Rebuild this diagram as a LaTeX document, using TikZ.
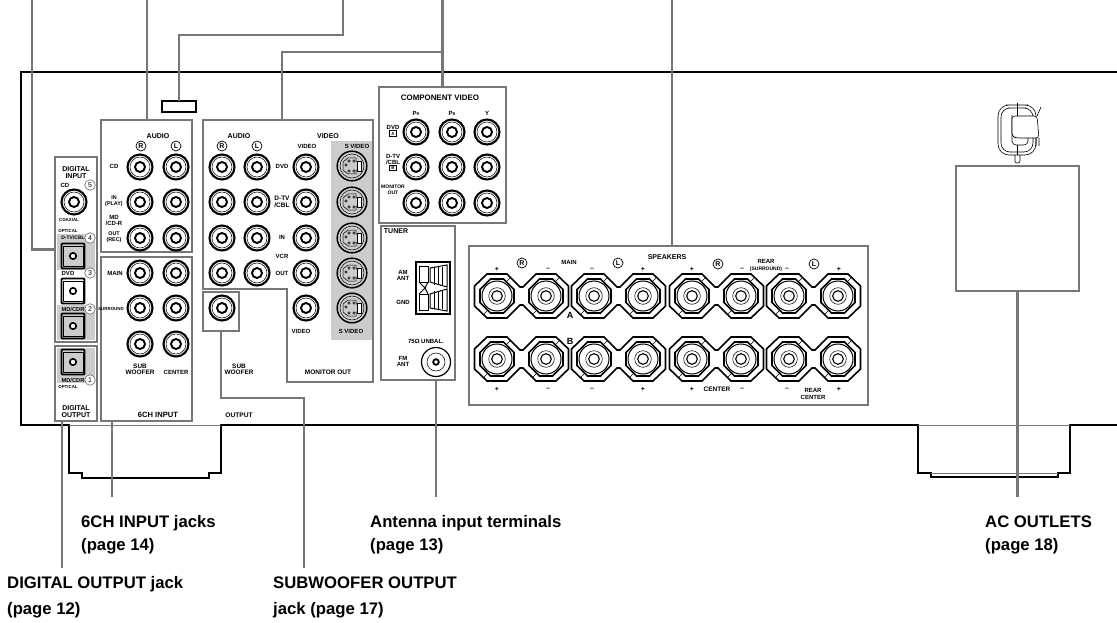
\documentclass[tikz,border=0pt]{standalone}
\usepackage{fontspec}
\setmainfont{Liberation Sans}
\usetikzlibrary{positioning}

\definecolor{leadergray}{HTML}{777777}
\definecolor{panelgray}{HTML}{CCCCCC}

\tikzset{
  leader/.style={leadergray, line width=2.5pt},
  chassis/.style={black, line width=1.7pt},
  panelbox/.style={draw=leadergray, line width=2.6pt, inner sep=0, outer sep=0},
  lbl/.style={inner sep=0, align=center, font=\fontsize{7}{7}\selectfont\bfseries},
  small/.style={inner sep=0, align=center, font=\fontsize{6}{6}\selectfont\bfseries},
  tiny/.style={inner sep=0, align=center, font=\fontsize{4.4}{5}\selectfont\bfseries},
  caption/.style={inner sep=0, anchor=base west, font=\fontsize{16.7}{18}\selectfont\bfseries},
  ringed/.style={draw, circle, line width=.7pt, inner sep=0, minimum size=10pt, font=\fontsize{7}{7}\selectfont\bfseries},
  numbered/.style={draw=leadergray, circle, line width=.7pt, inner sep=0, minimum size=10.5pt, fill=white, font=\fontsize{7}{7}\selectfont},
  boxed/.style={draw, line width=.5pt, inner sep=0, minimum width=7pt, minimum height=5.5pt, font=\fontsize{4.4}{5}\selectfont\bfseries},
  rca/.pic={
    \draw[line width=2.1pt] (0,0) circle (12.5);
    \draw[line width=.5pt] (0,0) circle (10);
    \draw[line width=1.9pt] (0,0) circle (5);
  },
  svideo/.pic={
    \draw[line width=1.5pt] (0,0) circle (14.8);
    \draw[line width=.5pt] (0,0) circle (12);
    \draw[line width=.5pt] (-9,-4) -- (-4,-8) -- (4,-8) -- (4,-4) -- (9,-4) -- (9,4) -- (4,4) -- (4,8) -- (-4,8) -- (-9,4) -- cycle;
    \draw[line width=.6pt, fill=white] (5,-5) rectangle (9,5);
    \foreach \px/\py in {-3/-5,2/-5,-6/-1,-3/5,2/5}
      \draw[line width=.5pt, fill=white] (\px,\py) circle (1.2);
  },
  optical/.pic={
    \draw[line width=1.9pt, rounded corners=1pt] (-11.5,-12.5) rectangle (11.5,12.5);
    \draw[line width=.6pt] (-10,-10) rectangle (10,10.5);
    \draw[line width=1.6pt, fill=white] (0,0) circle (3.2);
  },
  terminal/.pic={
    \draw[line width=.6pt] (7,-12) -- (13,-18) (-7,12) -- (-13,18);
    \draw[line width=1.6pt, fill=white] (-6.5,-17) -- (6.5,-17) -- (17,-6.5) -- (17,6.5) -- (6.5,17) -- (-6.5,17) -- (-17,6.5) -- (-17,-6.5) -- cycle;
    \draw[line width=1pt] (0,0) circle (15);
    \draw[line width=.5pt] (0,0) circle (8.3);
    \draw[line width=1.1pt] (0,0) circle (5.3);
  },
  terminalpair/.pic={
    \draw[line width=1.6pt] (-22.5,-10) -- (-10,-22) -- (10,-22) -- (23,-9) -- (26,-9) -- (39,-22) -- (59,-22) -- (71.5,-10)
      -- (71.5,10) -- (59,22) -- (39,22) -- (26,9) -- (23,9) -- (10,22) -- (-10,22) -- (-22.5,10) -- cycle;
    \pic at (0,0) {terminal};
    \pic at (49,0) {terminal};
  },
}

\begin{document}
\begin{tikzpicture}[x=1pt, y=-1pt]
  \useasboundingbox (0,0) rectangle (1117,623);

  % Chassis and feet
  \draw[chassis] (1117,72) -- (21,72) -- (21,425) -- (69,425) -- (69,473) -- (82,473) -- (82,478) -- (209,478) -- (209,473) -- (221,473) -- (221,425) -- (918,425) -- (918,473) -- (931,473) -- (931,477) -- (1058,477) -- (1058,473) -- (1070,473) -- (1070,425) -- (1117,425);
  \draw[leadergray, line width=1pt] (69,425) -- (221,425) (918,425) -- (1070,425);
  \draw[leadergray, line width=.8pt] (931,473.5) -- (1058,473.5);

  % Gray fields
  \fill[panelgray] (57,234) rectangle (95,270);
  \fill[panelgray] (57,305) rectangle (95,340);
  \fill[panelgray] (57,348) rectangle (95,383);
  \fill[panelgray] (331,141) rectangle (372,340);

  % Panels
  \node[panelbox, minimum width=42pt, minimum height=185pt] (diginbox) at (76,249.5) {};
  \node[panelbox, minimum width=42pt, minimum height=75pt] (digoutbox) at (76,383.5) {};
  \node[panelbox, minimum width=91pt, minimum height=132pt] (audiobox) at (146.5,186) {};
  \node[panelbox, minimum width=91pt, minimum height=164pt] (sixchbox) at (146.5,339) {};
  \node[panelbox, minimum width=36pt, minimum height=39pt] (subbox) at (221,311.5) {};
  \node[panelbox, minimum width=127pt, minimum height=136pt] (compbox) at (442.5,155) {};
  \node[panelbox, minimum width=74pt, minimum height=154pt] (tunerbox) at (418,303) {};
  \node[panelbox, minimum width=399pt, minimum height=159pt] (speakerbox) at (668.5,325.5) {};
  \node[panelbox, minimum width=123pt, minimum height=125pt] (acbox) at (1017.5,228.5) {};
  \node[draw, line width=1.6pt, inner sep=0, outer sep=0, minimum width=34pt, minimum height=11pt] (slot) at (179,106.5) {};
  \draw[panelbox] (203,289) -- (203,120) -- (373,120) -- (373,382) -- (287,382) -- (287,289) -- cycle;

  % Connectors
  \coordinate (diginend) at (32,0);
  \coordinate (audioend) at (147,0);
  \coordinate (slotbend) at (343,35);
  \coordinate (slotend) at (343,0);
  \coordinate (videostart) at (282,120);
  \coordinate (compend) at (442.5,0);
  \coordinate (speakerend) at (672,0);
  \coordinate (digoutend) at (62,568);
  \coordinate (sixchend) at (112,497);
  \coordinate (subbend) at (304,398);
  \coordinate (subend) at (304,568);
  \coordinate (tunerend) at (436,497);
  \coordinate (acend) at (1017.5,497);
  \draw[leader] (diginend) |- (diginbox.west);
  \draw[leader] (audioend) -- (audioend |- audiobox.north);
  \draw[leader] (slot.north) |- (slotbend) -- (slotend);
  \draw[leader] (videostart) |- (compend |- 0,52);
  \draw[leader] (compend) -- (compbox.north);
  \draw[leader] (speakerend) -- (speakerend |- speakerbox.north);
  \draw[leader] (digoutend |- digoutbox.south) -- (digoutend);
  \draw[leader] (sixchend |- sixchbox.south) -- (sixchend);
  \draw[leader] (subbox.south) |- (subbend) -- (subend);
  \draw[leader] (tunerend |- tunerbox.south) -- (tunerend);
  \draw[leader] (acbox.south) -- (acend);

  % Jacks
  \foreach \x in {140,176}
    \foreach \y in {167,202,238,273,308,344}
      \pic at (\x,\y) {rca};
  \foreach \x in {222,257}
    \foreach \y in {167,202,238,273}
      \pic at (\x,\y) {rca};
  \foreach \y in {167,202,238,273,308}
    \pic at (306,\y) {rca};
  \foreach \y in {166,202,238,273,308}
    \pic at (352,\y) {svideo};
  \foreach \x in {416,452,487}
    \foreach \y in {132,167,203}
      \pic at (\x,\y) {rca};
  \pic at (222,308) {rca};
  \pic at (74,202) {rca};
  \foreach \y in {256,291,326,362}
    \pic at (73,\y) {optical};

  % Speaker terminals
  \foreach \x in {497,594,692,789}
    \foreach \y in {296,359}
      \pic at (\x,\y) {terminalpair};

  % Antenna terminals
  \node[draw, line width=1.6pt, inner sep=0, outer sep=0, minimum width=34pt, minimum height=52pt] (antbox) at (433,288) {};
  \draw[line width=1pt] (419,266) rectangle (428,282) (419,294) rectangle (428,310);
  \draw[line width=1pt] (419,282) -- (425,288) -- (419,294) (428,282) -- (425,288) -- (428,294);
  \draw[line width=1pt] (430,268) -- (447,265) -- (447,287) -- (430,282) -- cycle;
  \draw[line width=1pt] (430,308) -- (447,311) -- (447,289) -- (430,294) -- cycle;
  \foreach \x in {434,438,442}
    \draw[line width=.7pt] (\x,267) -- (\x,285) (\x,291) -- (\x,309);
  \draw[line width=1.2pt] (436,362) circle (14.5);
  \draw[line width=.5pt] (436,362) circle (9);
  \draw[line width=1.8pt] (436,362) circle (2.8);

  % Mains plug
  \draw[line width=.6pt, rounded corners=11pt] (1017,105) -- (998,105) -- (998,155) -- (1036,155) -- (1036,105) -- cycle;
  \draw[line width=.6pt, rounded corners=9pt] (1017,108) -- (1001,108) -- (1001,152) -- (1033,152) -- (1033,108) -- cycle;
  \draw[line width=.6pt, rounded corners=4pt] (1012,115) -- (1012,145) -- (1028,145) -- (1028,138);
  \draw[line width=.6pt, rounded corners=3pt, fill=white] (1016,138) -- (1012,136) -- (1012,116) -- (1037,116) -- (1039,138) -- cycle;
  \draw[line width=.6pt] (1037,116) -- (1041,107) (1039,138) -- (1039,146) (1036,138) -- (1036,146);
  \draw[line width=.6pt] (1017.5,103) -- (1017.5,116) (1017.5,145) -- (1017.5,155);
  \draw[line width=.6pt, rounded corners=2pt] (1015,155) -- (1015,163) -- (1020,163) -- (1020,155);

  % Text, digital panels
  \node[lbl] (diginlabel) at (76,172.5) {DIGITAL\\INPUT};
  \node[small] (cdin) at (65,185) {CD};
  \node[tiny] (coaxial) at (69,220) {COAXIAL};
  \node[tiny] (opticalin) at (68,231) {OPTICAL};
  \node[tiny, font=\fontsize{5}{5}\selectfont\bfseries] (dtvin) at (73,238) {D-TV/CBL};
  \node[small] (dvdin) at (68,273) {DVD};
  \node[small, font=\fontsize{5.7}{6}\selectfont\bfseries] (mdin) at (73,309) {MD/CDR};
  \node[small, font=\fontsize{5.7}{6}\selectfont\bfseries] (mdout) at (73,380) {MD/CDR};
  \node[tiny] (opticalout) at (68,387) {OPTICAL};
  \node[lbl] (digoutlabel) at (76,411.5) {DIGITAL\\OUTPUT};
  \node[numbered] (numfive) at (90,185) {5};
  \node[numbered] (numfour) at (90,238) {4};
  \node[numbered] (numthree) at (90,273) {3};
  \node[numbered] (numtwo) at (90,309) {2};
  \node[numbered] (numone) at (90,380) {1};

  % Text, audio panels
  \node[lbl] (audiolabel) at (158,136) {AUDIO};
  \node[ringed] (audior) at (141,146) {R};
  \node[ringed] (audiol) at (176,146) {L};
  \node[small] (cdaudio) at (114,166) {CD};
  \node[small, font=\fontsize{5.4}{6}\selectfont\bfseries] (inplay) at (114,201) {IN\\(PLAY)};
  \node[small] (mdcdr) at (114,220) {MD\\/CD-R};
  \node[small, font=\fontsize{5.4}{6}\selectfont\bfseries] (outrec) at (114,237) {OUT\\(REC)};
  \node[small] (mainsix) at (115,273) {MAIN};
  \node[tiny] (surround) at (111,309) {SURROUND};
  \node[small, font=\fontsize{6.4}{6.2}\selectfont\bfseries] (subsix) at (140,369) {SUB\\WOOFER};
  \node[small] (centersix) at (176,372) {CENTER};
  \node[lbl, font=\fontsize{7.6}{8}\selectfont\bfseries] (sixchlabel) at (158,415) {6CH INPUT};
  \node[lbl, font=\fontsize{6.6}{7}\selectfont\bfseries] (outputlabel) at (239,415) {OUTPUT};
  \node[small, font=\fontsize{6.4}{6.2}\selectfont\bfseries] (subout) at (239,369) {SUB\\WOOFER};

  % Text, video panel
  \node[lbl] (audiovideo) at (239,136) {AUDIO};
  \node[ringed] (videor) at (222,146) {R};
  \node[ringed] (videol) at (257,146) {L};
  \node[lbl] (videolabel) at (328,136) {VIDEO};
  \node[small] (videotop) at (307,146) {VIDEO};
  \node[small] (svideotop) at (357,146) {S VIDEO};
  \node[small] (dvdvideo) at (282,166) {DVD};
  \node[small, font=\fontsize{6.5}{7}\selectfont\bfseries] (dtvvideo) at (282,202) {D-TV\\/CBL};
  \node[small] (invideo) at (282,237) {IN};
  \node[small] (vcrlabel) at (282,256) {VCR};
  \node[small] (outvideo) at (282,273) {OUT};
  \node[small] (videobottom) at (301,331) {VIDEO};
  \node[small] (svideobottom) at (351,331) {S VIDEO};
  \node[small, font=\fontsize{6.5}{6}\selectfont\bfseries] (monitorout) at (328,372) {MONITOR OUT};

  % Text, component video
  \node[lbl, font=\fontsize{7.9}{8}\selectfont\bfseries] (complabel) at (440,98) {COMPONENT VIDEO};
  \node[small] (prlabel) at (416,113) {P\fontsize{4}{4}\selectfont R};
  \node[small] (pblabel) at (452,113) {P\fontsize{4}{4}\selectfont B};
  \node[small] (ylabel) at (487,113) {Y};
  \node[small] (dvdcomp) at (393,127) {DVD};
  \node[boxed] (abox) at (393,133.5) {A};
  \node[small] (dtvcomp) at (393,159) {D-TV\\/CBL};
  \node[boxed] (bbox) at (393,168) {B};
  \node[small, font=\fontsize{5}{6}\selectfont\bfseries] (monitorcomp) at (393,190) {MONITOR\\OUT};

  % Text, tuner
  \node[lbl] (tunerlabel) at (396,231) {TUNER};
  \node[small] (amant) at (403,275) {AM\\ANT};
  \node[small] (gnd) at (403,302) {GND};
  \node[small] (unbal) at (426,341) {75Ω UNBAL.};
  \node[small] (fmant) at (403,361.5) {FM\\ANT};

  % Text, speakers
  \node[small] (mainspk) at (569,262) {MAIN};
  \node[lbl] (speakerslabel) at (667,257) {SPEAKERS};
  \node[small] (rearspk) at (766,261) {REAR};
  \node[tiny, font=\fontsize{5}{5}\selectfont\bfseries] (surroundspk) at (766,269) {(SURROUND)};
  \node[ringed] (spkrone) at (522,263) {R};
  \node[ringed] (spklone) at (618,263) {L};
  \node[ringed] (spkrtwo) at (718,264) {R};
  \node[ringed] (spkltwo) at (814,264) {L};
  \node[lbl, font=\fontsize{9}{9}\selectfont\bfseries] (alabel) at (570,315) {A};
  \node[lbl, font=\fontsize{9}{9}\selectfont\bfseries] (blabel) at (570,341) {B};
  \node[lbl] (plusa) at (497,269) {+};
  \node[lbl] (minusa) at (548,269) {--};
  \node[lbl] (minusb) at (592,269) {--};
  \node[lbl] (plusb) at (643,269) {+};
  \node[lbl] (plusc) at (692,269) {+};
  \node[lbl] (minusc) at (742,269) {--};
  \node[lbl] (minusd) at (787,269) {--};
  \node[lbl] (plusd) at (839,269) {+};
  \node[lbl] (pluse) at (497,389) {+};
  \node[lbl] (minuse) at (548,389) {--};
  \node[lbl] (minusf) at (592,389) {--};
  \node[lbl] (plusf) at (643,389) {+};
  \node[lbl] (plusg) at (692,389) {+};
  \node[small, font=\fontsize{6.5}{6.5}\selectfont\bfseries] (centerspk) at (717,389) {CENTER};
  \node[lbl] (minusg) at (742,389) {--};
  \node[lbl] (minush) at (787,389) {--};
  \node[small, font=\fontsize{6}{7}\selectfont\bfseries] (rearcenter) at (813,394) {REAR\\CENTER};
  \node[lbl] (plush) at (839,389) {+};

  % Captions
  \node[caption] (sixchcap) at (81,527) {6CH INPUT jacks};
  \node[caption] (sixchpage) at (81,550) {(page 14)};
  \node[caption] (antcap) at (370,527) {Antenna input terminals};
  \node[caption] (antpage) at (370,550) {(page 13)};
  \node[caption] (accap) at (985,527) {AC OUTLETS};
  \node[caption] (acpage) at (985,550) {(page 18)};
  \node[caption] (digcap) at (7,588) {DIGITAL OUTPUT jack};
  \node[caption] (digpage) at (7,614) {(page 12)};
  \node[caption] (subcap) at (273,588) {SUBWOOFER OUTPUT};
  \node[caption] (subpage) at (273,614) {jack (page 17)};
\end{tikzpicture}
\end{document}
